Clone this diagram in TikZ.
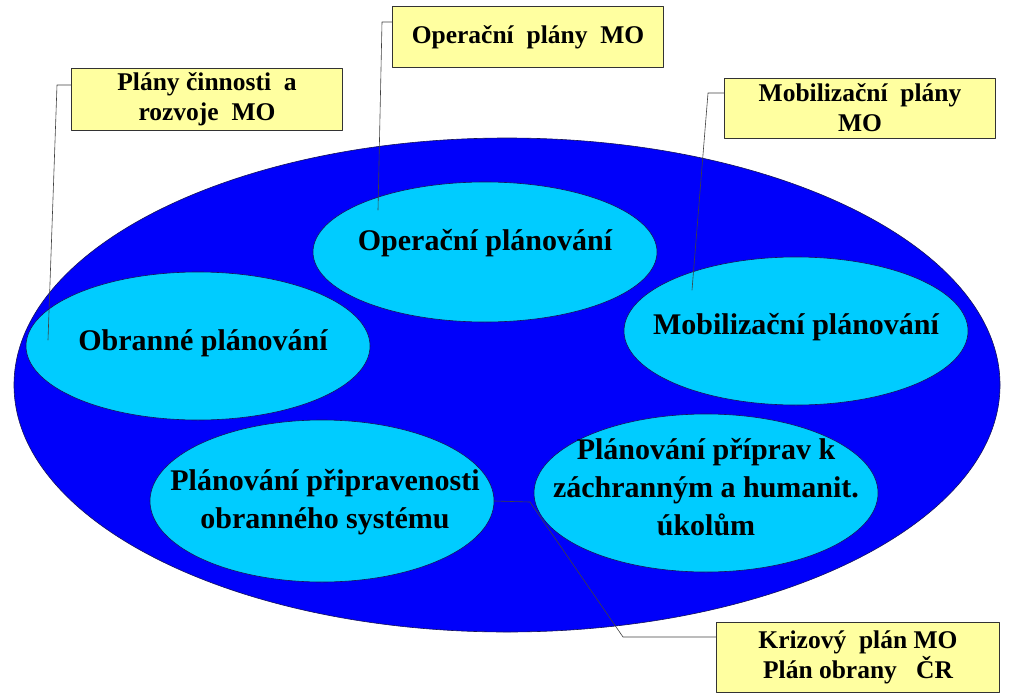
\documentclass[tikz,border=0pt]{standalone}
\usepackage{fontspec}
\setmainfont{Liberation Serif}
\usetikzlibrary{shapes.geometric}

\definecolor{outerblue}{RGB}{0,0,250}
\definecolor{innercyan}{RGB}{0,204,255}
\definecolor{boxyellow}{RGB}{255,255,160}
\definecolor{rimnavy}{RGB}{20,20,90}

\tikzset{
  area/.style={ellipse,draw=rimnavy,line width=.6pt,fill=innercyan,
    minimum width=344pt,inner sep=0pt},
  areatext/.style={align=center,inner sep=0pt,
    font=\fontsize{30}{38}\selectfont\bfseries},
  planbox/.style={rectangle,draw=black!80,line width=.8pt,fill=boxyellow,
    minimum width=271pt,inner sep=0pt,align=center,
    font=\fontsize{25.5}{30}\selectfont\bfseries},
  leader/.style={draw=black!75,line width=.6pt}
}

\begin{document}
\begin{tikzpicture}[x=1pt,y=-1pt,line cap=round,line join=round]
    \useasboundingbox (0,0) rectangle (1024,698);
    % big ellipse
    \fill[outerblue,draw=rimnavy,line width=.6pt] (507,385) ellipse (493 and 247);

    \node[area,minimum height=140pt] (oper) at (485,252) {};
    \node[area,minimum height=148pt] (obr) at (198,346) {};
    \node[area,minimum height=148pt] (mob) at (796,331) {};
    \node[area,minimum height=162pt] (pripr) at (322,501) {};
    \node[area,minimum height=158pt] (zachr) at (706,493) {};

    \node[areatext] (operT) at (485,243) {Operační plánování};
    \node[areatext] (obrT) at (203,343) {Obranné plánování};
    \node[areatext] (mobT) at (796,327) {Mobilizační plánování};
    \node[areatext] (priprT) at (325,502)
      {Plánování připravenosti\\obranného systému};
    \node[areatext] (zachrT) at (706,487)
      {Plánování příprav k\\záchranným a humanit.\\úkolům};

    \node[planbox,minimum height=62pt] (planA) at (207,99)
      {Plány činnosti~ a\\rozvoje~ MO};
    \node[planbox,minimum height=61pt] (planB) at (528,37)
      {Operační~ plány~ MO};
    \node[planbox,minimum height=60pt] (planC) at (860,108)
      {Mobilizační~ plány\\MO};
    \node[planbox,minimum width=283pt,minimum height=70pt] (planD) at (858,657)
      {Krizový~ plán MO\\Plán obrany~~ ČR};

    % leader lines
    \coordinate (kneeA) at (57,85);
    \coordinate (endA) at (48,340);
    \coordinate (kneeB) at (382,22);
    \coordinate (endB) at (378,210);
    \coordinate (kneeC) at (708,93);
    \coordinate (endC) at (692,290);
    \coordinate (kneeD) at (623,637);
    \coordinate (bendD) at (530,502);

    \draw[leader] (planA.west |- kneeA) -- (kneeA) -- (endA);
    \draw[leader] (planB.west |- kneeB) -- (kneeB) -- (endB);
    \draw[leader] (planC.west |- kneeC) -- (kneeC) -- (endC);
    \draw[leader] (planD.west |- kneeD) -- (kneeD) -- (bendD) -- (pripr.east);
  \end{tikzpicture}
\end{document}
